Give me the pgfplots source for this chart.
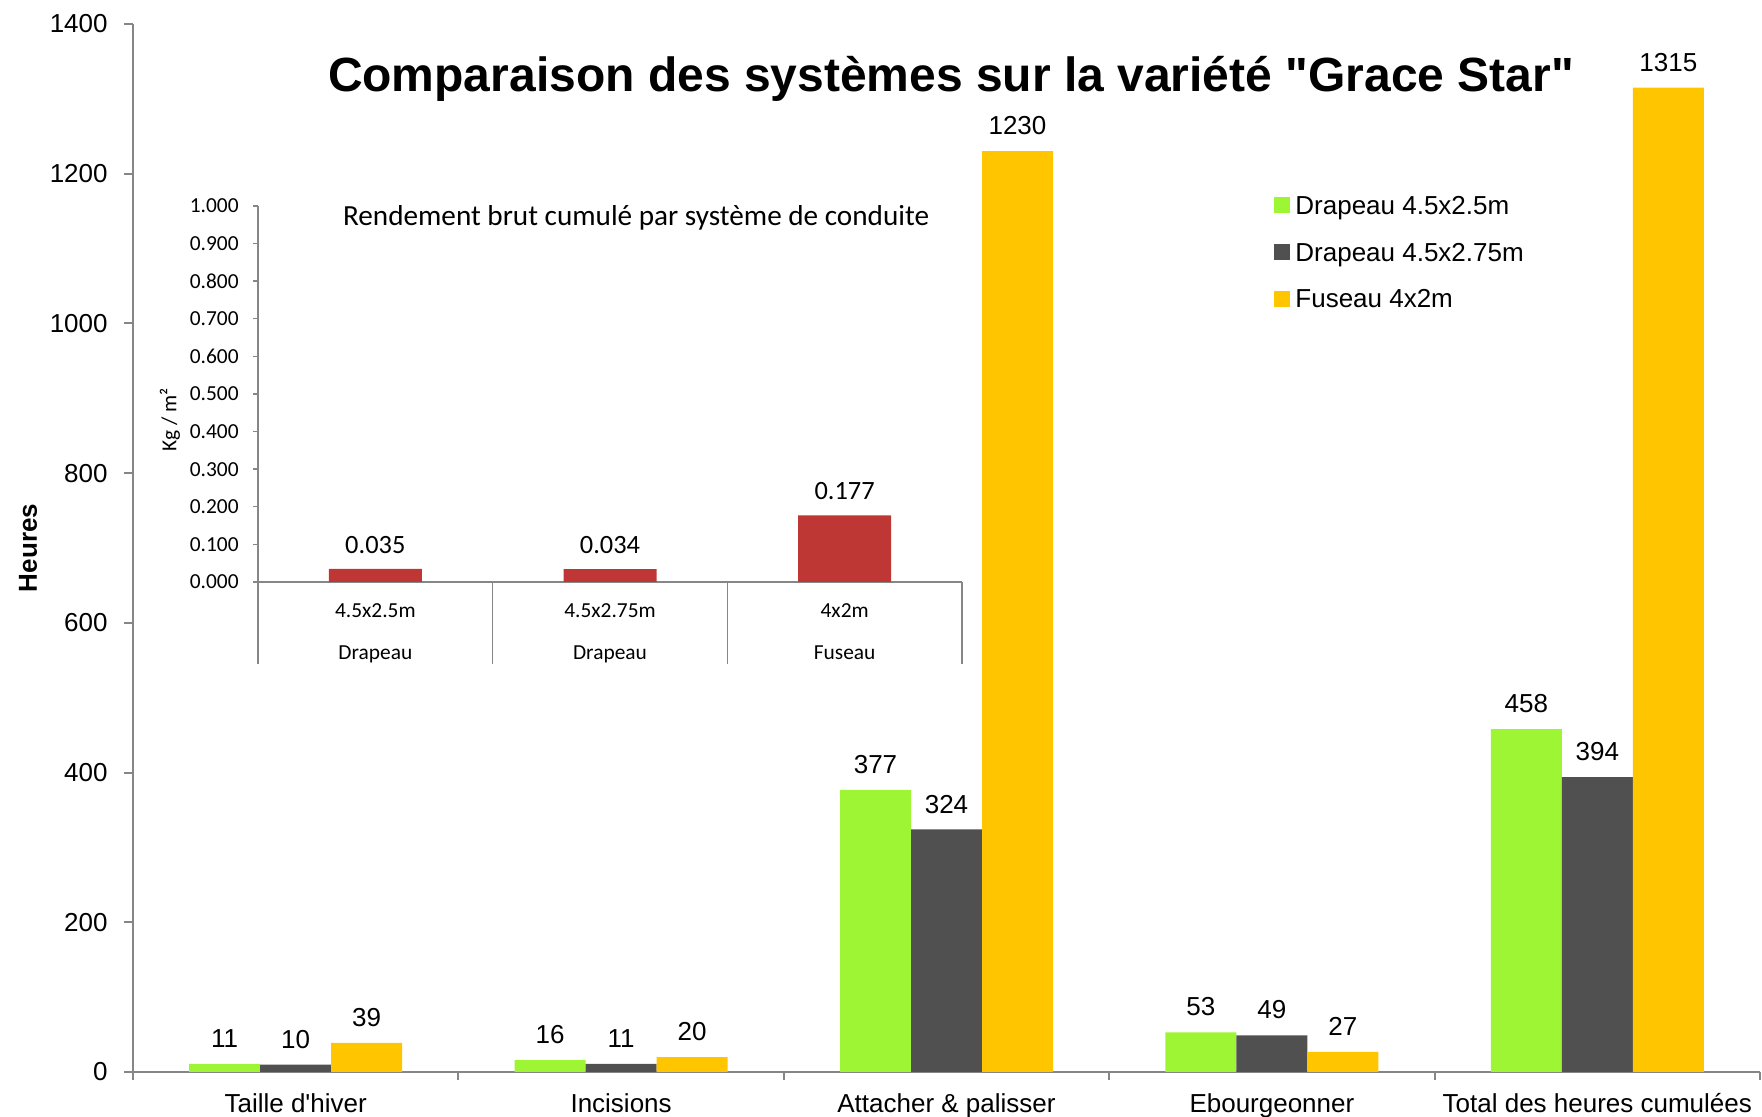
\documentclass[border=0pt]{standalone}
\usepackage{pgfplots}
\pgfplotsset{compat=1.18}
\usepackage{fontspec}
\setmainfont{Liberation Sans}
\newfontfamily\af{Liberation Sans}
\newfontfamily\calibri{Carlito}
\definecolor{cgreen}{RGB}{158,245,52}
\definecolor{cgrey}{RGB}{80,80,80}
\definecolor{cyellow}{RGB}{255,198,0}
\definecolor{cred}{RGB}{190,55,52}
\definecolor{axgrey}{RGB}{134,134,134}
\begin{document}
\begin{tikzpicture}
\begin{axis}[
  at={(0,0)}, anchor=south west,
  scale only axis, width=813.5pt, height=524pt,
  xmin=-0.5, xmax=4.5, ymin=0, ymax=1400,
  ytick distance=200,
  axis x line*=bottom, axis y line*=left,
  axis line style={draw=axgrey, line width=1pt},
  /pgf/number format/assume math mode=true,
  /pgf/number format/1000 sep={},
  tick align=outside,
  major tick length=4.5pt,
  minor tick length=4pt,
  tick style={draw=axgrey, line width=1pt},
  major x tick style={draw=none},
  xtick={0,1,2,3,4},
  xticklabels={Taille d'hiver, Incisions, Attacher \& palisser, Ebourgeonner, Total des heures cumulées},
  minor xtick={-0.5,0.5,1.5,2.5,3.5,4.5},
  ticklabel style={font=\af\fontsize{13}{15}\selectfont},
  xticklabel style={anchor=base, inner sep=0pt, yshift=-15.75pt},
  yticklabel style={anchor=east, inner sep=0pt, xshift=-8pt},
  ylabel={\textbf{Heures}},
  every axis y label/.style={at={(axis description cs:-0.0645,0.5)}, rotate=90, anchor=center, font=\af\fontsize{13}{15}\selectfont},
  ybar=0pt, bar width=35.5pt,
  nodes near coords,
  every node near coord/.append style={font=\af\fontsize{13}{15}\selectfont, inner sep=0pt, anchor=south, yshift=7.85pt, text=black},
  legend style={draw=none, fill=none, at={(axis description cs:0.7013,0.8365)}, anchor=north west,
    font=\af\fontsize{13}{15}\selectfont, row sep=11.3pt, inner sep=0pt,
    nodes={inner sep=0pt, text height=9.5pt, text depth=2.5pt, anchor=west}},
  legend image code/.code={\fill[#1] (0pt,-2.85pt) rectangle (8pt,5.15pt); \path (10.5pt,0pt);},
  legend cell align=left,
]
\addplot[fill=cgreen, draw=none] coordinates {(0,11) (1,16) (2,377) (3,53) (4,458)};
\addplot[fill=cgrey, draw=none] coordinates {(0,10) (1,11) (2,324) (3,49) (4,394)};
\addplot[fill=cyellow, draw=none] coordinates {(0,39) (1,20) (2,1230) (3,27) (4,1315)};
\legend{Drapeau 4.5x2.5m, Drapeau 4.5x2.75m, Fuseau 4x2m}
\node[anchor=base, font=\af\bfseries\fontsize{24}{28}\selectfont] at (axis description cs:0.5028,0.9359) {Comparaison des systèmes sur la variété "Grace Star"};
\end{axis}
\begin{axis}[
  at={(62.5pt,245pt)}, anchor=south west,
  scale only axis, width=352pt, height=188pt,
  xmin=-0.5, xmax=2.5, ymin=0, ymax=1,
  ytick distance=0.1,
  axis x line*=bottom, axis y line*=left,
  axis line style={draw=axgrey, line width=0.7pt},
  tick style={draw=axgrey, line width=0.7pt},
  major x tick style={draw=none},
  tick align=outside,
  major tick length=2.5pt,
  minor tick length=41pt,
  xtick={0,1,2}, xticklabels={4.5x2.5m,4.5x2.75m,4x2m},
  minor xtick={-0.5,0.5,1.5,2.5},
  extra x ticks={0,1,2}, extra x tick labels={Drapeau,Drapeau,Fuseau},
  extra x tick style={major tick length=0pt, xticklabel style={yshift=-23.15pt}},
  /pgf/number format/assume math mode=true,
  ticklabel style={font=\calibri\fontsize{10.7}{12}\selectfont},
  xticklabel style={anchor=base, inner sep=0pt, yshift=-15.5pt},
  yticklabel style={anchor=east, inner sep=0pt, xshift=-7pt, /pgf/number format/.cd, fixed, fixed zerofill, precision=3},
  ylabel={Kg / m²},
  every axis y label/.style={at={(axis description cs:-0.125,0.431)}, rotate=90, anchor=center, font=\calibri\fontsize{10.7}{12}\selectfont},
  ybar=0pt, bar width=46.5pt,
  nodes near coords={\pgfmathprintnumber[fixed,fixed zerofill,precision=3]{\pgfplotspointmeta}},
  every node near coord/.append style={font=\calibri\fontsize{13.2}{15}\selectfont, inner sep=0pt, anchor=south, yshift=7.5pt, text=black},
]
\addplot[fill=cred, draw=none] coordinates {(0,0.035) (1,0.034) (2,0.177)};
\node[anchor=base, font=\calibri\fontsize{14.6}{16}\selectfont] at (axis description cs:0.537,0.9468) {Rendement brut cumulé par système de conduite};
\end{axis}
\pgfresetboundingbox
\path[use as bounding box] (-66.5pt,-22.5pt) rectangle (814.5pt,536pt);
\end{tikzpicture}
\end{document}
